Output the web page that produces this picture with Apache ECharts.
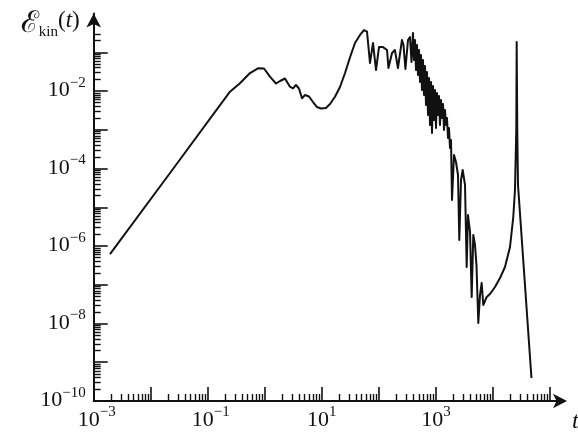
<!DOCTYPE html>
<html><head><meta charset="utf-8">
<script src="https://cdn.jsdelivr.net/npm/echarts@6/dist/echarts.min.js"></script>
<style>html,body{margin:0;padding:0;background:#fff}#c{width:578px;height:432px}</style>
</head><body><div id="c"></div>
<script>
// time t
const tValues = [
  1.93e-3, 2.18e-2, 0.245, 0.367, 0.55, 0.758, 0.968, 1.23, 1.57, 1.85,
  2.26, 2.76, 3.12, 3.52, 3.97, 4.49, 5.07, 5.96, 7.0, 8.22,
  9.66, 11.8, 13.9, 17.0, 20.8, 25.5, 31.1, 38.1, 46.7, 54.8,
  61.9, 69.8, 78.9, 89.0, 100.5, 118, 139, 147, 170, 191,
  216, 254, 270, 292, 324, 351, 373,
  396, 412.6, 429.6, 447.3, 465.7, 484.9, 504.9, 525.7, 547.4, 569.9,
  593.4, 617.9, 643.3, 669.8, 697.4, 726.2, 756.1, 787.3, 819.7, 853.5,
  888.7, 925.3, 963.4, 1003, 1044, 1088, 1132, 1179, 1228, 1278,
  1331, 1386, 1443, 1502, 1564, 1629, 1696, 1766, 1838, 1914,
  2075, 2249, 2438, 2570, 2754, 2946, 3236, 3460, 3648, 3963,
  4236, 4520, 4842, 5140, 5534, 5929, 6342, 6761, 7762, 8872,
  10860, 13280, 16250, 19900, 22710, 24320, 25640, 26060, 26680, 27480,
  47320
];
// kinetic energy E_kin(t)
const energyValues = [
  6.2e-7, 7.66e-5, 9.6e-3, 0.0158, 0.0291, 0.0386, 0.038, 0.0234, 0.0156, 0.0181,
  0.021, 0.0129, 0.0117, 0.0143, 0.0116, 6.47e-3, 7.89e-3, 7.21e-3, 5.2e-3, 3.86e-3,
  3.53e-3, 3.64e-3, 4.61e-3, 7.13e-3, 0.0127, 0.0291, 0.0731, 0.173, 0.279, 0.375,
  0.339, 0.0527, 0.173, 0.0348, 0.136, 0.136, 0.114, 0.0392, 0.0955, 0.114,
  0.0392, 0.207, 0.154, 0.037, 0.207, 0.247, 0.056,
  0.3135, 0.063, 0.2069, 0.0348, 0.1537, 0.0259, 0.1142, 0.01705, 0.0848, 0.0106,
  0.063, 7.87e-3, 0.0441, 4.35e-3, 0.0309, 2.40e-3, 0.0216, 1.325e-3, 0.01705, 8.24e-4,
  0.01345, 1.78e-3, 0.0106, 1.109e-3, 8.87e-3, 2.40e-3, 7.42e-3, 1.325e-3, 5.85e-3, 2.01e-3,
  4.61e-3, 9.84e-4, 3.23e-3, 1.325e-3, 2.01e-3, 6.12e-4, 1.109e-3, 3.38e-4, 5.43e-4, 1.54e-5,
  2.23e-4, 1.47e-4, 6.79e-5, 1.43e-6, 5.05e-5, 9.14e-5, 3.75e-5, 2.87e-7, 6.31e-6, 2.3e-6,
  4.83e-8, 1.92e-6, 1.06e-6, 3.24e-7, 1.03e-8, 5.43e-8, 1.11e-7, 3.0e-8, 4.83e-8, 5.77e-8,
  8.75e-8, 1.49e-7, 2.87e-7, 9.42e-7, 5.6e-6, 2.79e-5, 9.84e-4, 0.184, 9.84e-4, 3.75e-5,
  3.93e-10
];
const xMajorTicks = [1e-3, 1e-2, 1e-1, 1e0, 1e1, 1e2, 1e3, 1e4, 1e5];
const xLabelTicks = [1e-3, 1e-1, 1e1, 1e3];
const yMajorTicks = [1e-10, 1e-9, 1e-8, 1e-7, 1e-6, 1e-5, 1e-4, 1e-3, 1e-2, 1e-1];
const yLabelTicks = [1e-10, 1e-8, 1e-6, 1e-4, 1e-2];
const xMinorDecades = [1e-3, 1e-2, 1e-1, 1e0, 1e1, 1e2, 1e3, 1e4];
const yMinorDecades = [1e-10, 1e-9, 1e-8, 1e-7, 1e-6, 1e-5, 1e-4, 1e-3, 1e-2];
const yMinorExtra = [2e-1, 3e-1];
const minorMultipliers = [2, 3, 4, 5, 6, 7, 8, 9];
const xRange = [1e-3, 1.76e5];
const yRange = [1e-10, 1];

const xMinorTicks = [];
xMinorDecades.forEach(d => minorMultipliers.forEach(k => xMinorTicks.push(k * d)));
const yMinorTicks = [];
yMinorDecades.forEach(d => minorMultipliers.forEach(k => yMinorTicks.push(k * d)));
yMinorExtra.forEach(v => yMinorTicks.push(v));

const seriesData = tValues.map((t, i) => [t, energyValues[i]]);

const SERIF = '"Liberation Serif", "DejaVu Serif", serif';
const labelRich = {
  b: { fontFamily: SERIF, fontSize: 22, lineHeight: 26, verticalAlign: 'bottom', color: '#111' },
  s: { fontFamily: SERIF, fontSize: 15, lineHeight: 26, verticalAlign: 'top', color: '#111' },
  p: { fontFamily: SERIF, fontSize: 15, width: 6 }
};
function expOf(v) { return Math.round(Math.log10(v)); }
function supText(e) { return e < 0 ? '\u2212' + (-e) : String(e); }

const chart = echarts.init(document.getElementById('c'), null, { renderer: 'canvas' });
const axisLineStyle = { color: '#111', width: 2 };
chart.setOption({
  animation: false,
  backgroundColor: '#fff',
  grid: { left: 93.7, right: 14, top: 13.5, bottom: 31, containLabel: false, outerBoundsMode: 'none' },
  xAxis: [{
    type: 'log', logBase: 10, min: xRange[0], max: xRange[1], position: 'bottom',
    name: 't', nameLocation: 'end', nameGap: 8,
    nameTextStyle: { fontFamily: SERIF, fontStyle: 'italic', fontSize: 24, color: '#111', verticalAlign: 'top', lineHeight: 42 },
    axisLine: { show: true, lineStyle: axisLineStyle, symbol: ['none', 'arrow'], symbolSize: [11, 14], symbolOffset: [0, 3] },
    axisTick: { show: true, inside: true, length: 14, customValues: xMajorTicks, lineStyle: { color: '#111', width: 1.6 } },
    axisLabel: {
      show: true, customValues: xLabelTicks, margin: 4, verticalAlign: 'top',
      formatter: v => { const e = expOf(v); return (e < 0 ? '{p| }' : '') + '{b|10}{s|' + supText(e) + '}'; },
      rich: labelRich
    },
    splitLine: { show: false }, minorTick: { show: false }
  }, {
    type: 'log', logBase: 10, min: xRange[0], max: xRange[1], position: 'bottom',
    axisLine: { show: false },
    axisTick: { show: true, inside: true, length: 7, customValues: xMinorTicks, lineStyle: { color: '#111', width: 1.4 } },
    axisLabel: { show: false }, splitLine: { show: false }
  }],
  yAxis: [{
    type: 'log', logBase: 10, min: yRange[0], max: yRange[1], position: 'left',
    name: '{E|\u2130}{k|kin}{p|(}{t|t}{p|)}', nameLocation: 'end', nameGap: -11, nameMoveOverlap: false,
    nameTextStyle: {
      align: 'right', verticalAlign: 'middle', padding: [0, 14, 0, 0],
      rich: {
        E: { fontFamily: '"DejaVu Serif", serif', fontSize: 30, lineHeight: 30, verticalAlign: 'top', color: '#111' },
        k: { fontFamily: SERIF, fontSize: 15, lineHeight: 30, verticalAlign: 'bottom', color: '#111' },
        p: { fontFamily: SERIF, fontSize: 23, lineHeight: 30, verticalAlign: 'top', color: '#111' },
        t: { fontFamily: SERIF, fontStyle: 'italic', fontSize: 23, lineHeight: 30, verticalAlign: 'top', color: '#111' }
      }
    },
    axisLine: { show: true, lineStyle: axisLineStyle, symbol: ['none', 'arrow'], symbolSize: [11, 14] },
    axisTick: { show: true, inside: true, length: 14, customValues: yMajorTicks, lineStyle: { color: '#111', width: 1.6 } },
    axisLabel: {
      show: true, customValues: yLabelTicks, margin: 8, align: 'right', verticalAlign: 'middle', padding: [0, 0, 5, 0],
      formatter: v => '{b|10}{s|' + supText(expOf(v)) + '}',
      rich: labelRich
    },
    splitLine: { show: false }, minorTick: { show: false }
  }, {
    type: 'log', logBase: 10, min: yRange[0], max: yRange[1], position: 'left',
    axisLine: { show: false },
    axisTick: { show: true, inside: true, length: 7, customValues: yMinorTicks, lineStyle: { color: '#111', width: 1.4 } },
    axisLabel: { show: false }, splitLine: { show: false }
  }],
  series: [{
    type: 'line', xAxisIndex: 0, yAxisIndex: 0, data: seriesData,
    showSymbol: false, symbol: 'none', smooth: false,
    lineStyle: { color: '#111', width: 2, join: 'round' }
  }]
});
</script></body></html>
